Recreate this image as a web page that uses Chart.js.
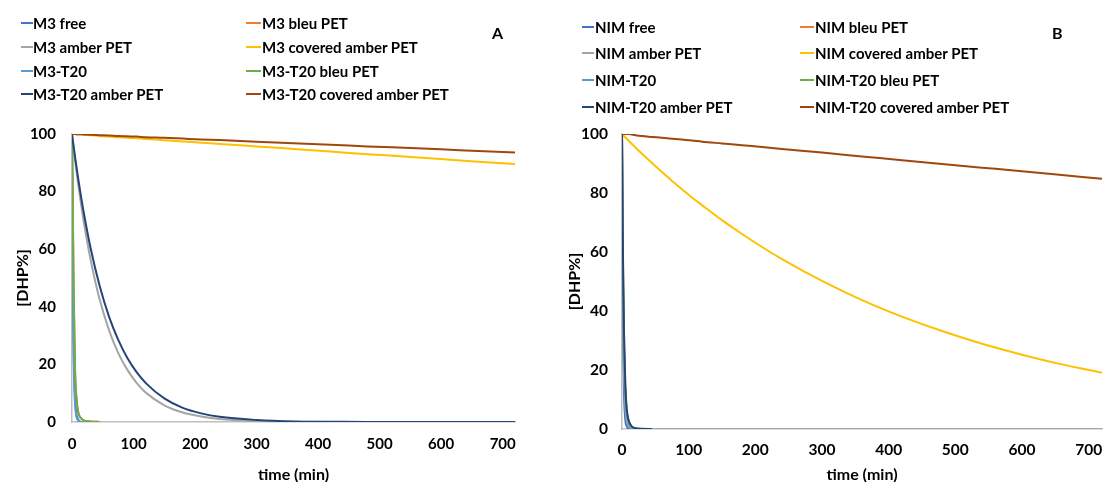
<!DOCTYPE html>
<html><head><meta charset="utf-8">
<script src="https://cdn.jsdelivr.net/npm/chart.js@4.4.1/dist/chart.umd.min.js"></script>
<style>
html,body{margin:0;padding:0;background:#fff;overflow:hidden;width:1103px;height:482px;}
#wrap{position:relative;width:1103px;height:482px;overflow:hidden;background:#fff;}
canvas{position:absolute;top:0;}
.leg{position:absolute;font:bold 15px Lato, sans-serif;color:#000;white-space:nowrap;line-height:18px;}
.key{position:absolute;height:2px;}
.panel{position:absolute;font:bold 16px Lato, sans-serif;color:#000;line-height:18px;}
</style></head><body>
<div id="wrap">
<canvas id="cA" width="530" height="490" style="left:0px"></canvas>
<canvas id="cB" width="553" height="490" style="left:550px"></canvas>
</div>
<script>
// ---------- data ----------
const timesA = [0, 1, 2, 3, 5, 7, 10, 15, 20, 30, 45, 60, 75, 90, 105, 120, 150, 180, 210, 240, 300, 360, 420, 480, 540, 600, 660, 720];
const timesB = [0, 1, 2, 3, 5, 7, 10, 15, 20, 30, 45, 60, 75, 90, 105, 120, 150, 180, 210, 240, 300, 360, 420, 480, 540, 600, 660, 720];

const namesA = ["M3 free", "M3 bleu PET", "M3 amber PET", "M3 covered amber PET", "M3-T20", "M3-T20 bleu PET", "M3-T20 amber PET", "M3-T20 covered amber PET"];
const namesB = ["NIM free", "NIM bleu PET", "NIM amber PET", "NIM covered amber PET", "NIM-T20", "NIM-T20 bleu PET", "NIM-T20 amber PET", "NIM-T20 covered amber PET"];

const xTicks = [0, 100, 200, 300, 400, 500, 600, 700];
const yTicks = [0, 20, 40, 60, 80, 100];

// Panel A series
const m3Free          = [100, 62, 38, 22, 8, 3, 0.8, 0, 0, null, null, null, null, null, null, null, null, null, null, null, null, null, null, null, null, null, null, null];
const m3Bleu          = [100, 80, 60, 42, 18, 9, 3.5, 1.2, 0.5, 0.2, 0, null, null, null, null, null, null, null, null, null, null, null, null, null, null, null, null, null];
const m3Amber         = [100, 98.1, 96.3, 94.5, 91.0, 87.5, 82.7, 75.2, 68.4, 56.6, 42.5, 32.0, 24.0, 18.1, 13.6, 10.2, 5.8, 3.3, 1.9, 1.0, 0.3, 0.1, 0, 0, 0, 0, 0, 0];
const m3Covered       = [100, 100, 100, 100, 99.9, 99.9, 99.8, 99.8, 99.7, 99.6, 99.3, 99.1, 98.9, 98.7, 98.5, 98.3, 97.8, 97.4, 97.0, 96.5, 95.7, 94.8, 93.9, 93.0, 92.2, 91.3, 90.4, 89.6];
const m3T20           = [100, 58, 33, 18, 6, 2, 0.5, 0, 0, null, null, null, null, null, null, null, null, null, null, null, null, null, null, null, null, null, null, null];
const m3T20Bleu       = [100, 80, 60, 42, 18, 9, 3.5, 1.2, 0.5, 0.2, 0, null, null, null, null, null, null, null, null, null, null, null, null, null, null, null, null, null];
const m3T20Amber      = [100, 98.3, 96.7, 95.1, 92.0, 89.0, 84.6, 77.8, 71.6, 60.6, 47.2, 36.7, 28.6, 22.2, 17.3, 13.5, 8.2, 4.9, 3.0, 1.8, 0.7, 0.2, 0.1, 0, 0, 0, 0, 0];
const m3T20Covered    = [100, 100, 100, 100, 100, 99.9, 99.9, 99.9, 99.8, 99.7, 99.6, 99.5, 99.3, 99.2, 99.1, 98.9, 98.7, 98.4, 98.1, 97.9, 97.3, 96.8, 96.3, 95.7, 95.2, 94.7, 94.1, 93.6];

// Panel B series
const nimFree         = [100, 50, 25, 12, 3, 1, 0.2, 0, 0, null, null, null, null, null, null, null, null, null, null, null, null, null, null, null, null, null, null, null];
const nimBleu         = [100, 65, 42, 27, 11, 5, 1.8, 0.4, 0.1, 0, null, null, null, null, null, null, null, null, null, null, null, null, null, null, null, null, null, null];
const nimAmber        = [100, 60, 36, 22, 8, 3, 1, 0.2, 0, 0, 0, 0, 0, 0, 0, 0, 0, 0, 0, 0, 0, 0, 0, 0, 0, 0, 0, 0];
const nimCovered      = [100, 99.8, 99.5, 99.3, 98.9, 98.4, 97.7, 96.6, 95.5, 93.3, 90.2, 87.1, 84.1, 81.3, 78.5, 75.9, 70.8, 66.1, 61.7, 57.6, 50.2, 43.7, 38.1, 33.2, 28.9, 25.2, 21.9, 19.1];
const nimT20          = [100, 65, 42, 27, 11, 5, 1.8, 0.4, 0.1, 0, null, null, null, null, null, null, null, null, null, null, null, null, null, null, null, null, null, null];
const nimT20Bleu      = [100, 68, 46, 31, 14, 6.5, 2.5, 0.6, 0.2, 0, null, null, null, null, null, null, null, null, null, null, null, null, null, null, null, null, null, null];
const nimT20Amber     = [100, 70, 48, 33, 15, 7, 3, 0.8, 0.3, 0.1, 0, null, null, null, null, null, null, null, null, null, null, null, null, null, null, null, null, null];
const nimT20Covered   = [100, 100, 100, 100, 100, 100, 100, 99.8, 99.6, 99.3, 99.0, 98.7, 98.4, 98.1, 97.8, 97.4, 96.8, 96.2, 95.6, 94.9, 93.7, 92.4, 91.1, 89.8, 88.6, 87.4, 86.1, 84.8];

const seriesColors = ["#4472C4", "#ED7D31", "#A5A5A5", "#FFC000", "#5B9BD5", "#70AD47", "#264478", "#9E480E"];

// ---------- helpers ----------
Chart.defaults.font.family = "Lato";
Chart.defaults.color = "#000";

function makeDatasets(times, list, names) {
  return list.map((vals, i) => ({
    label: names[i],
    data: times.map((t, j) => vals[j] == null ? null : { x: t, y: vals[j] }).filter(p => p),
    borderColor: seriesColors[i],
    backgroundColor: seriesColors[i],
    borderWidth: 2,
    pointRadius: 0,
    fill: false,
    cubicInterpolationMode: "monotone",
    order: list.length - i
  }));
}

function makeOptions(cfg) {
  return {
    responsive: false,
    animation: false,
    devicePixelRatio: 1,
    layout: { padding: { top: cfg.padTop, right: cfg.padRight, left: 0, bottom: 0 } },
    plugins: { legend: { display: false }, tooltip: { enabled: false } },
    scales: {
      x: {
        type: "linear", min: 0, max: 720,
        afterFit: s => { s.height = cfg.xHeight; s.paddingRight = 0; s.paddingLeft = 0; },
        afterBuildTicks: s => { s.ticks = xTicks.map(v => ({ value: v })); },
        ticks: { padding: cfg.xTickPad, font: { size: cfg.tickSize, weight: "bold" }, color: "#000", maxRotation: 0, autoSkip: false },
        grid: { display: false, drawTicks: false },
        border: { display: true, color: "#bfbfbf", width: 1.5 },
        title: { display: true, text: "time (min)", font: { size: 16, weight: "bold" }, color: "#000", padding: { top: 0, bottom: cfg.xTitlePad } }
      },
      y: {
        type: "linear", min: 0, max: 100,
        afterFit: s => { s.width = cfg.yWidth; },
        afterBuildTicks: s => { s.ticks = yTicks.map(v => ({ value: v })); },
        ticks: { padding: cfg.yTickPad, font: { size: cfg.tickSize, weight: "bold" }, color: "#000" },
        grid: { display: false, drawTicks: false },
        border: { display: true, color: "#bfbfbf", width: 1.5 },
        title: { display: true, text: "[DHP%]", font: { size: 16, weight: "bold" }, color: "#000", padding: { top: cfg.yTitlePad, bottom: 0 } }
      }
    }
  };
}

new Chart(document.getElementById("cA"), {
  type: "line",
  data: { datasets: makeDatasets(timesA, [m3Free, m3Bleu, m3Amber, m3Covered, m3T20, m3T20Bleu, m3T20Amber, m3T20Covered], namesA) },
  options: makeOptions({ padTop: 134, padRight: 15, xHeight: 68, yWidth: 72, xTickPad: 13, yTickPad: 16, xTitlePad: 5.4, yTitlePad: 13.4, tickSize: 15 })
});

new Chart(document.getElementById("cB"), {
  type: "line",
  data: { datasets: makeDatasets(timesB, [nimFree, nimBleu, nimAmber, nimCovered, nimT20, nimT20Bleu, nimT20Amber, nimT20Covered], namesB) },
  options: makeOptions({ padTop: 134, padRight: 1, xHeight: 61, yWidth: 72, xTickPad: 12, yTickPad: 14, xTitlePad: 5.4, yTitlePad: 15.4, tickSize: 15.5 })
});

// ---------- legends (HTML) ----------
const wrap = document.getElementById("wrap");
function legend(names, layout) {
  names.forEach((name, i) => {
    const col = i % 2, row = Math.floor(i / 2);
    const c = layout.cols[col];
    const yc = layout.rows[row];
    const k = document.createElement("div");
    k.className = "key";
    k.style.left = c.keyX + "px";
    k.style.width = c.keyW + "px";
    k.style.top = (yc - 1) + "px";
    k.style.background = seriesColors[i];
    wrap.appendChild(k);
    const t = document.createElement("div");
    t.className = "leg";
    t.style.left = c.textX + "px";
    t.style.top = (yc - 9) + "px";
    t.textContent = name;
    wrap.appendChild(t);
  });
}
legend(namesA, { cols: [{ keyX: 21, keyW: 12, textX: 33 }, { keyX: 246, keyW: 15, textX: 262 }], rows: [23, 47, 71, 94] });
legend(namesB, { cols: [{ keyX: 582, keyW: 12, textX: 595 }, { keyX: 800, keyW: 14, textX: 815 }], rows: [27, 53, 80, 107] });

function panelLabel(txt, x, y) {
  const d = document.createElement("div");
  d.className = "panel";
  d.style.left = x + "px";
  d.style.top = (y - 9) + "px";
  d.textContent = txt;
  wrap.appendChild(d);
}
panelLabel("A", 492, 33);
panelLabel("B", 1052, 33);
</script>
</body></html>
